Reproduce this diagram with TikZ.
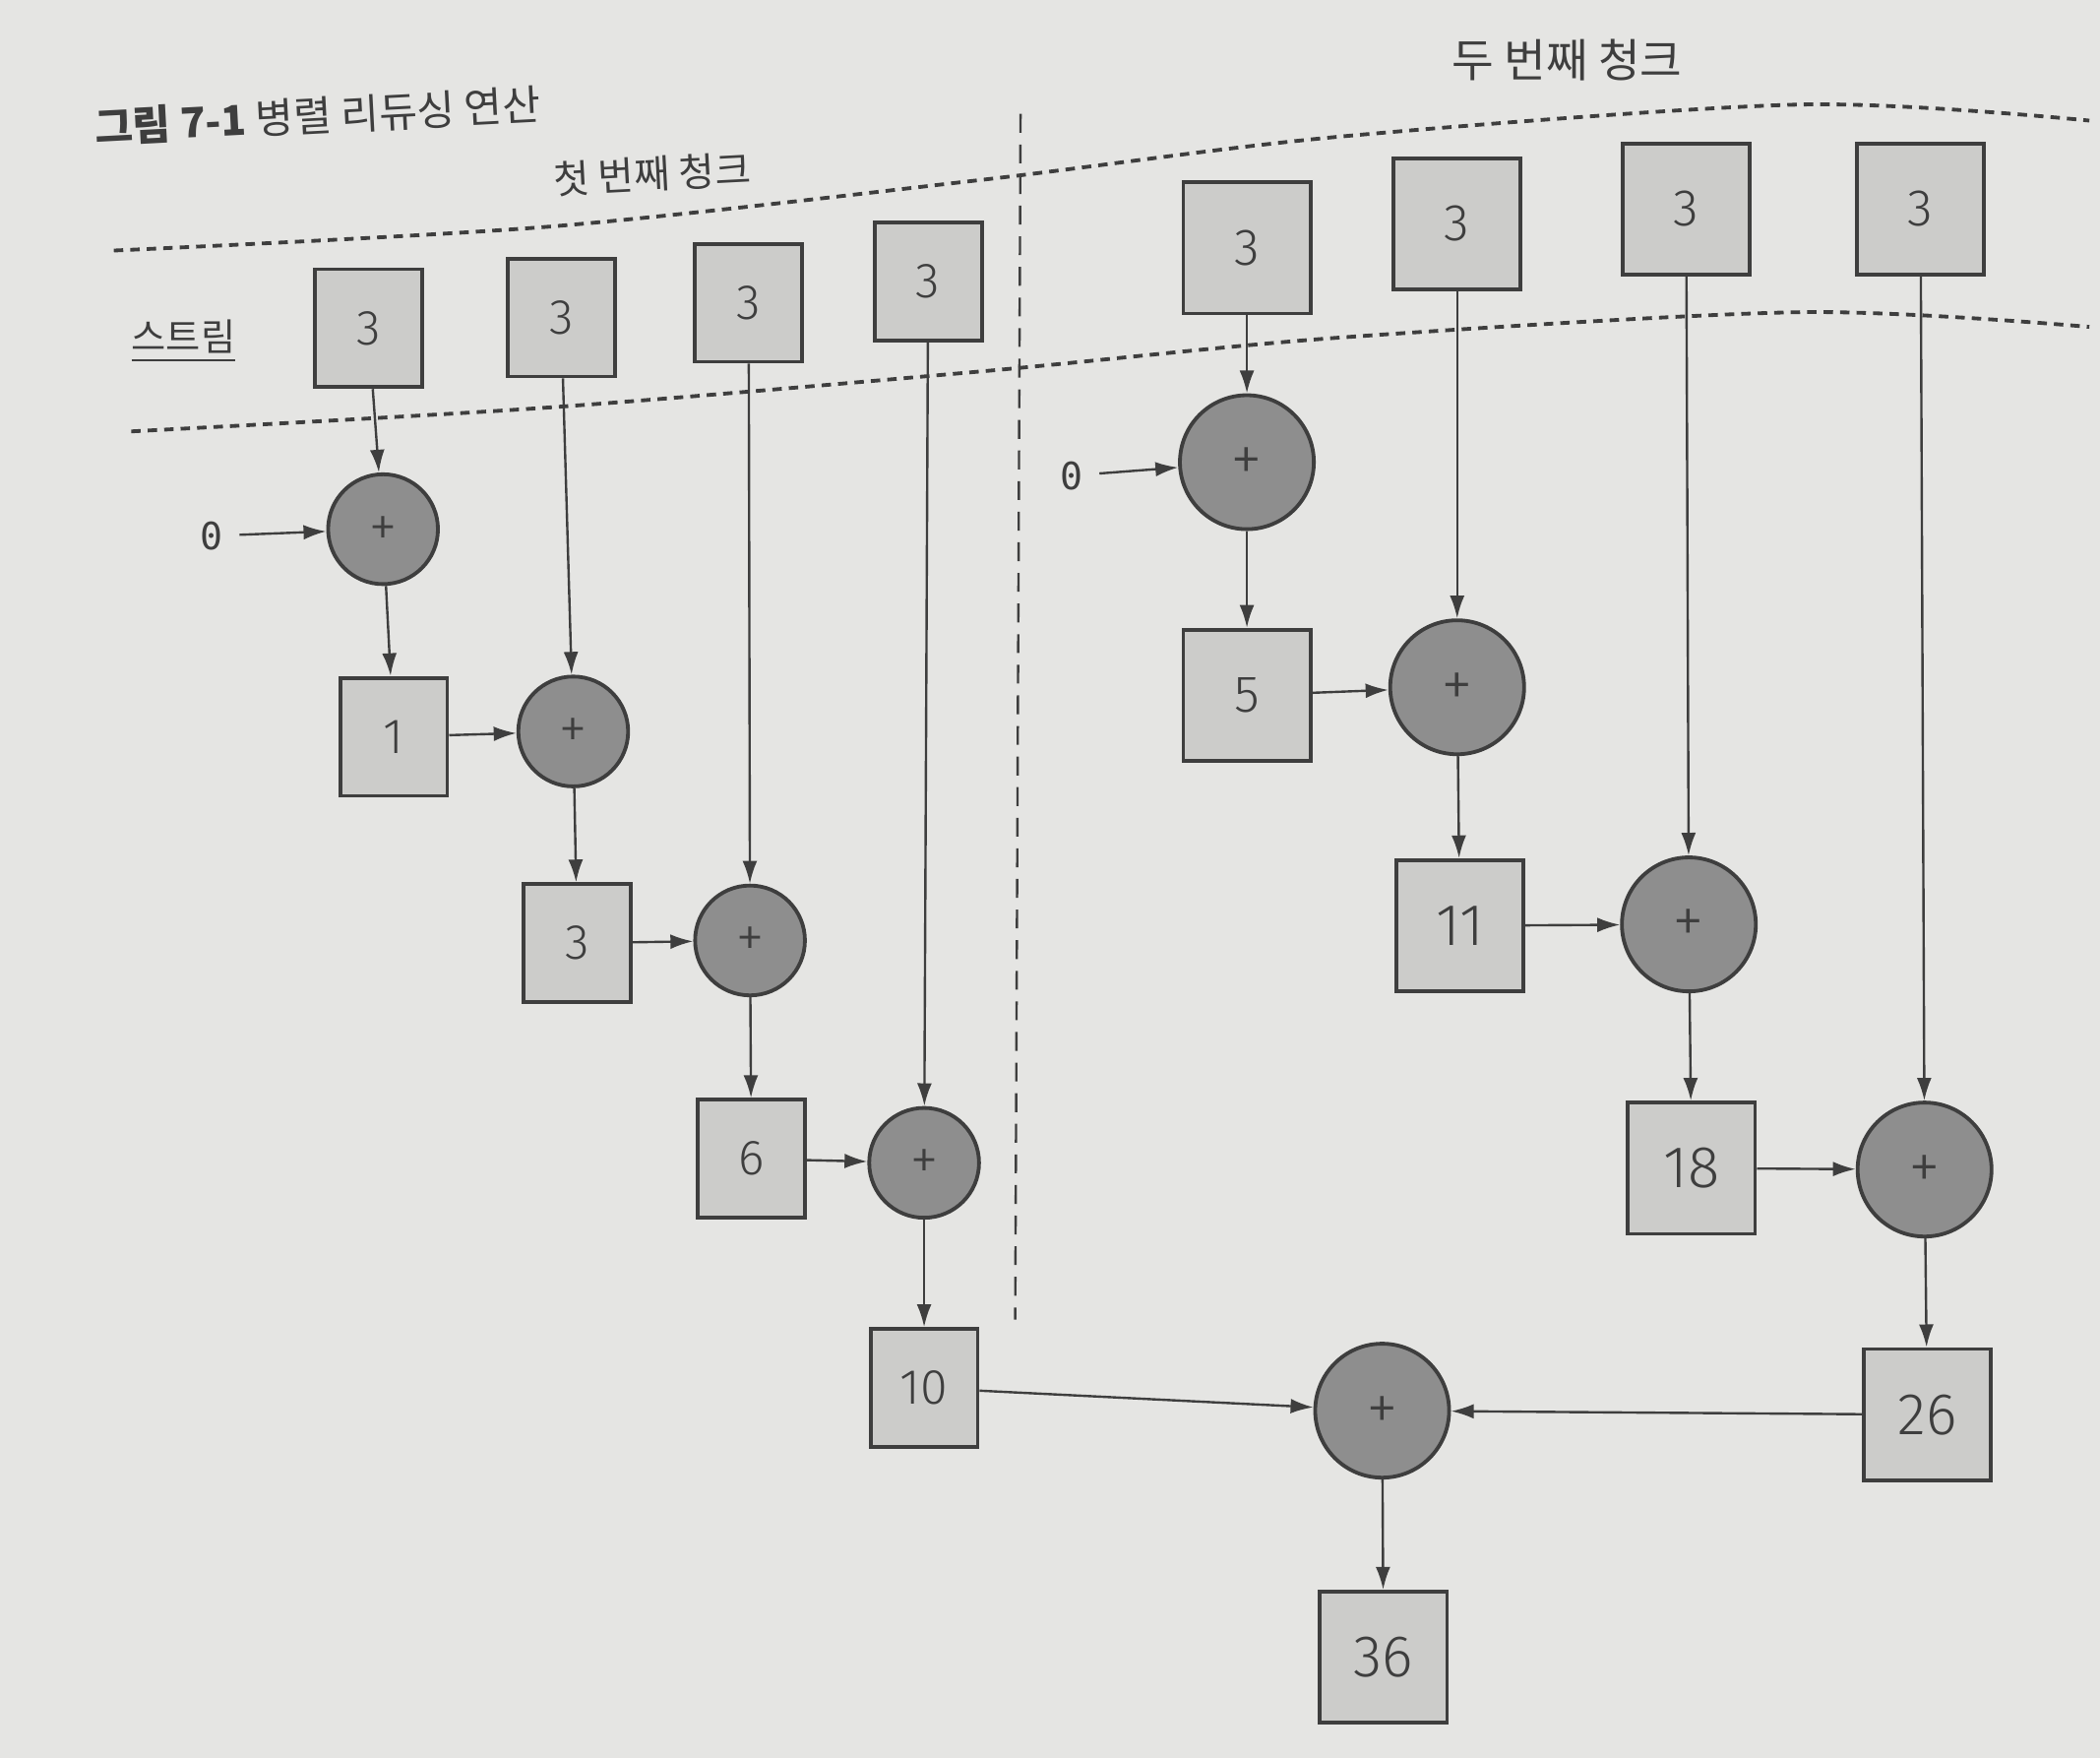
\documentclass[tikz,border=0pt]{standalone}
\usepackage{fontspec}
\setmainfont{Noto Sans CJK KR}
\newfontfamily\numfont{Fira Sans}[UprightFont={* Light}]
\newfontfamily\zerofont{DejaVu Sans Mono}
\usetikzlibrary{arrows.meta}
\definecolor{pagebg}{RGB}{229,229,227}
\definecolor{boxfill}{RGB}{204,204,202}
\definecolor{plusfill}{RGB}{142,142,142}
\definecolor{ink}{RGB}{62,62,62}

\begin{document}
\begin{tikzpicture}[
    >={Latex[length=1.7mm,width=1.1mm]},
    box/.style={draw=ink, line width=0.8pt, fill=boxfill, text=ink, inner sep=0pt,
      minimum width=0.8cm, minimum height=0.88cm, font=\numfont\fontsize{10.5}{10.5}\selectfont},
    bigbox/.style={box, minimum width=0.95cm, minimum height=0.98cm, font=\numfont\fontsize{12.5}{12.5}\selectfont},
    bigin/.style={bigbox, font=\numfont\fontsize{11}{11}\selectfont},
    plus/.style={circle, draw=ink, line width=0.8pt, fill=plusfill, text=ink, inner sep=0pt,
      minimum size=0.82cm, font=\fontsize{9}{9}\selectfont},
    bigplus/.style={plus, minimum size=1.0cm, font=\fontsize{10}{10}\selectfont},
    link/.style={->, draw=ink, line width=0.5pt},
    chunk/.style={draw=ink, line width=0.8pt, dash pattern=on 2pt off 1.5pt},
    zero/.style={text=ink, font=\zerofont\fontsize{8}{8}\selectfont},
  ]
      \fill[pagebg] (0, 0) rectangle (15.68, -13.12);
      \useasboundingbox (0, 0) rectangle (15.68, -13.12);

      \node[anchor=west, inner sep=0pt, rotate=3, text=ink, font=\fontsize{8.8}{8.8}\selectfont] (title) at (0.70, -0.95) {\textbf{그림 7-1} 병렬 리듀싱 연산};
      \node[rotate=3, text=ink, font=\fontsize{8.3}{8.3}\selectfont] (first) at (4.87, -1.30) {첫 번째 청크};
      \node[text=ink, font=\fontsize{9.7}{9.7}\selectfont] (second) at (11.70, -0.45) {두 번째 청크};
      \node[text=ink, font=\fontsize{8}{8}\selectfont] (stream) at (1.37, -2.55) {\underline{스트림}};

      \draw[chunk] plot[smooth] coordinates {(0.85, -1.87) (4.12, -1.69) (7.35, -1.34) (10.0, -1.02) (13.45, -0.78) (15.6, -0.90)};
      \draw[chunk] plot[smooth] coordinates {(0.98, -3.22) (4.12, -3.04) (7.35, -2.77) (10.0, -2.52) (13.45, -2.33) (15.6, -2.44)};
      \coordinate (divtop) at (7.62, -0.85);
      \coordinate (divbot) at (7.58, -9.85);
      \draw[ink, line width=0.5pt, dash pattern=on 4pt off 2.5pt] (divtop) -- (divbot);

      \node[box] (s1) at (2.75, -2.45) {3};
      \node[box] (s2) at (4.19, -2.37) {3};
      \node[box] (s3) at (5.59, -2.26) {3};
      \node[box] (s4) at (6.93, -2.10) {3};
      \node[bigin] (s5) at (9.31, -1.85) {3};
      \node[bigin] (s6) at (10.88, -1.67) {3};
      \node[bigin] (s7) at (12.59, -1.56) {3};
      \node[bigin] (s8) at (14.34, -1.56) {3};

      \node[zero] (z1) at (1.58, -4.00) {0};
      \node[zero] (z2) at (8.00, -3.55) {0};

      \node[plus] (p1) at (2.86, -3.95) {+};
      \node[box] (r1) at (2.94, -5.50) {1};
      \node[plus] (p2) at (4.28, -5.46) {+};
      \node[box] (r2) at (4.31, -7.04) {3};
      \node[plus] (p3) at (5.60, -7.02) {+};
      \node[box] (r3) at (5.61, -8.65) {6};
      \node[plus] (p4) at (6.90, -8.68) {+};
      \node[box] (r4) at (6.90, -10.36) {10};

      \node[bigplus] (p5) at (9.31, -3.45) {+};
      \node[bigin] (r5) at (9.31, -5.19) {5};
      \node[bigplus] (p6) at (10.88, -5.13) {+};
      \node[bigbox] (r6) at (10.90, -6.91) {11};
      \node[bigplus] (p7) at (12.61, -6.90) {+};
      \node[bigbox] (r7) at (12.63, -8.72) {18};
      \node[bigplus] (p8) at (14.37, -8.73) {+};
      \node[bigbox] (r8) at (14.39, -10.56) {26};
      \node[bigplus] (p9) at (10.32, -10.53) {+};
      \node[bigbox] (r9) at (10.33, -12.37) {36};

      \draw[link] (s1) -- (p1);
      \draw[link] (z1) -- (p1);
      \draw[link] (p1) -- (r1);
      \draw[link] (r1) -- (p2);
      \draw[link] (s2) -- (p2);
      \draw[link] (p2) -- (r2);
      \draw[link] (r2) -- (p3);
      \draw[link] (s3) -- (p3);
      \draw[link] (p3) -- (r3);
      \draw[link] (r3) -- (p4);
      \draw[link] (s4) -- (p4);
      \draw[link] (p4) -- (r4);

      \draw[link] (s5) -- (p5);
      \draw[link] (z2) -- (p5);
      \draw[link] (p5) -- (r5);
      \draw[link] (r5) -- (p6);
      \draw[link] (s6) -- (p6);
      \draw[link] (p6) -- (r6);
      \draw[link] (r6) -- (p7);
      \draw[link] (s7) -- (p7);
      \draw[link] (p7) -- (r7);
      \draw[link] (r7) -- (p8);
      \draw[link] (s8) -- (p8);
      \draw[link] (p8) -- (r8);

      \draw[link] (r4) -- (p9);
      \draw[link] (r8) -- (p9);
      \draw[link] (p9) -- (r9);
\end{tikzpicture}
\end{document}
